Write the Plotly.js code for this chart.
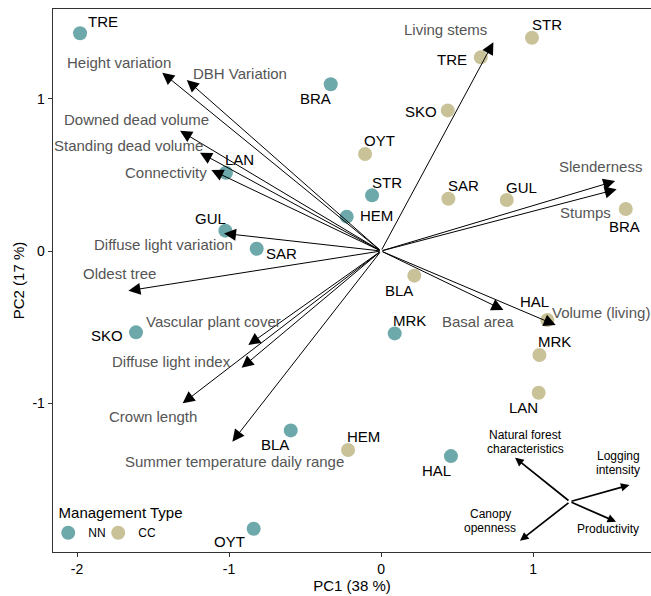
<!DOCTYPE html>
<html>
<head>
<meta charset="utf-8">
<script src="https://cdn.plot.ly/plotly-3.0.1.min.js"></script>
<style>html,body{margin:0;padding:0;background:#fff;}#chart{width:651px;height:596px;}</style>
</head>
<body>
<div id="chart"></div>
<script>
// ---- Site scores (PC1, PC2) ----
const nnSites = ['TRE','BRA','LAN','GUL','SAR','STR','HEM','SKO','MRK','BLA','HAL','OYT'];
const nnPC1 = [-1.98, -0.331, -1.02, -1.024, -0.818, -0.059, -0.226, -1.612, 0.09, -0.594, 0.46, -0.838];
const nnPC2 = [1.432, 1.097, 0.515, 0.134, 0.015, 0.366, 0.226, -0.535, -0.542, -1.18, -1.349, -1.827];
const nnLabelX = [-1.827, -0.428, -0.928, -1.125, -0.653, 0.037, -0.033, -1.8, 0.186, -0.697, 0.362, -0.998];
const nnLabelY = [1.509, 1.0, 0.603, 0.215, -0.015, 0.452, 0.232, -0.553, -0.459, -1.27, -1.447, -1.912];

const ccSites = ['STR','TRE','SKO','OYT','SAR','GUL','BRA','BLA','HAL','MRK','LAN','HEM'];
const ccPC1 = [0.993, 0.656, 0.439, -0.105, 0.443, 0.827, 1.61, 0.219, 1.094, 1.042, 1.037, -0.217];
const ccPC2 = [1.403, 1.274, 0.925, 0.638, 0.344, 0.336, 0.276, -0.162, -0.454, -0.684, -0.932, -1.309];
const ccLabelX = [1.09, 0.465, 0.263, -0.007, 0.542, 0.925, 1.599, 0.118, 1.009, 1.143, 0.936, -0.116];
const ccLabelY = [1.491, 1.257, 0.916, 0.724, 0.434, 0.419, 0.164, -0.257, -0.333, -0.597, -1.029, -1.222];

// ---- Variable loadings (arrow tips) ----
const varNames = ['Living stems','Height variation','DBH Variation','Downed dead volume','Standing dead volume',
  'Connectivity','Diffuse light variation','Oldest tree','Vascular plant cover','Diffuse light index',
  'Crown length','Summer temperature daily range','Slenderness','Stumps','Basal area','Volume (living)'];
const varPC1 = [0.739, -1.439, -1.278, -1.322, -1.191, -1.116, -1.033, -1.662, -0.873, -0.917, -1.305, -0.978, 1.54, 1.55, 0.805, 1.149];
const varPC2 = [1.373, 1.173, 1.125, 0.791, 0.647, 0.533, 0.116, -0.261, -0.618, -0.768, -1.002, -1.254, 0.46, 0.406, -0.388, -0.487];
const varLabelX = [0.423, -1.724, -0.928, -1.612, -1.662, -1.414, -1.432, -1.722, -1.103, -1.377, -1.498, -0.967, 1.441, 1.347, 0.64, 1.445];
const varLabelY = [1.454, 1.241, 1.169, 0.866, 0.691, 0.515, 0.046, -0.151, -0.465, -0.724, -1.086, -1.386, 0.559, 0.252, -0.465, -0.403];

// ---- Inset interpretation arrows ----
const insetOrigin = [1.243, -1.649];
const insetNames = ['Natural forest\ncharacteristics','Logging\nintensity','Canopy\nopenness','Productivity'];
const insetPC1 = [0.882, 1.634, 0.914, 1.546];
const insetPC2 = [-1.36, -1.539, -1.906, -1.781];
const insetLabelX = [0.952, 1.56, 0.717, 1.495];
const insetLabelY = [-1.259, -1.395, -1.778, -1.829];

const xTicks = [-2, -1, 0, 1];
const yTicks = [-1, 0, 1];

const colNN = '#6da8aa';
const colCC = '#c9c298';
const FONT = 'Liberation Sans, Arial, Helvetica, sans-serif';

const traces = [
  {type:'scatter', mode:'markers', name:'NN', x:nnPC1, y:nnPC2, text:nnSites,
   marker:{color:colNN, size:14}, cliponaxis:false},
  {type:'scatter', mode:'markers', name:'CC', x:ccPC1, y:ccPC2, text:ccSites,
   marker:{color:colCC, size:14}, cliponaxis:false}
];

const annotations = [];
// arrows
varNames.forEach((n,i)=>{
  annotations.push({x:varPC1[i], y:varPC2[i], ax:0, ay:0, xref:'x', yref:'y', axref:'x', ayref:'y',
    text:'', showarrow:true, arrowhead:2, arrowsize:2.4, arrowwidth:1, arrowcolor:'#000', standoff:0});
});
// variable labels
varNames.forEach((n,i)=>{
  annotations.push({x:varLabelX[i], y:varLabelY[i], xref:'x', yref:'y', text:n, showarrow:false,
    font:{family:FONT, size:15, color:'#555555'}});
});
// site labels
nnSites.forEach((n,i)=>{
  annotations.push({x:nnLabelX[i], y:nnLabelY[i], xref:'x', yref:'y', text:n, showarrow:false,
    font:{family:FONT, size:15, color:'#000'}});
});
ccSites.forEach((n,i)=>{
  annotations.push({x:ccLabelX[i], y:ccLabelY[i], xref:'x', yref:'y', text:n, showarrow:false,
    font:{family:FONT, size:15, color:'#000'}});
});
// inset arrows
insetNames.forEach((n,i)=>{
  annotations.push({x:insetPC1[i], y:insetPC2[i], ax:insetOrigin[0], ay:insetOrigin[1], xref:'x', yref:'y', axref:'x', ayref:'y',
    text:'', showarrow:true, arrowhead:2, arrowsize:1.0, arrowwidth:1.7, arrowcolor:'#000', standoff:0});
  const lines = n.split('\n');
  lines.forEach((ln,k)=>{
    annotations.push({x:insetLabelX[i], y:insetLabelY[i], xref:'x', yref:'y', text:ln, showarrow:false,
      yshift: (lines.length-1)*7 - k*14,
      font:{family:FONT, size:12, color:'#000'}});
  });
});

const layout = {
  width:651, height:596,
  margin:{l:53, r:0, t:9, b:44},
  paper_bgcolor:'#fff', plot_bgcolor:'#fff',
  font:{family:FONT, size:14, color:'#000'},
  showlegend:true,
  legend:{orientation:'h', x:-0.008, y:0.098, xanchor:'left', yanchor:'top', bgcolor:'rgba(0,0,0,0)',
    title:{text:'\u00a0\u00a0Management Type', side:'top', font:{family:FONT, size:15, color:'#000'}},
    font:{family:FONT, size:12, color:'#000'}, entrywidth:5, entrywidthmode:'pixels', tracegroupgap:0},
  xaxis:{range:[-2.158, 1.776], tickvals:xTicks, ticktext:xTicks.map(String), ticks:'outside', ticklen:4,
    tickcolor:'#333', showline:true, linecolor:'#333', linewidth:1.3, mirror:true, showgrid:false, zeroline:false,
    tickfont:{family:FONT, size:14, color:'#000'}, automargin:false,
    title:{text:'PC1 (38 %)', font:{family:FONT, size:15, color:'#000'}, standoff:2}},
  yaxis:{range:[-1.98, 1.592], tickvals:yTicks, ticktext:yTicks.map(String), ticks:'outside', ticklen:4,
    tickcolor:'#333', showline:true, linecolor:'#333', linewidth:1.3, showgrid:false, zeroline:false,
    tickfont:{family:FONT, size:14, color:'#000'}, automargin:false,
    title:{text:'PC2 (17 %)', font:{family:FONT, size:15, color:'#000'}, standoff:4}},
  annotations:annotations
};

Plotly.newPlot('chart', traces, layout, {staticPlot:true, displayModeBar:false});
</script>
</body>
</html>
